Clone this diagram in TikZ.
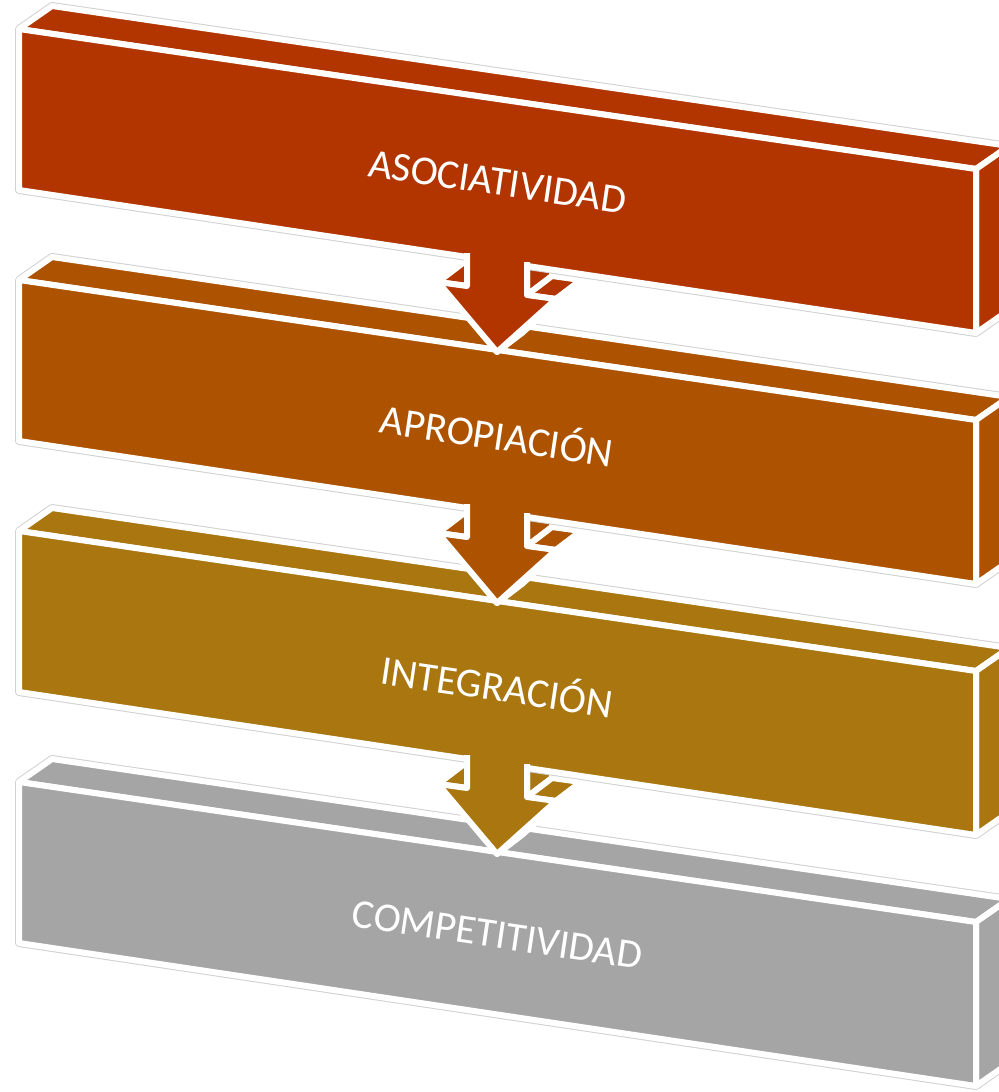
\documentclass[tikz,border=0pt]{standalone}
\usepackage{fontspec}
\setmainfont{Carlito}
\usepackage{xcolor}
\usepackage{tikz}
\usetikzlibrary{calc}
\definecolor{barA}{RGB}{178,53,0}
\definecolor{barB}{RGB}{173,83,0}
\definecolor{barC}{RGB}{169,118,15}
\definecolor{barD}{RGB}{165,165,165}

\begin{document}
\begin{tikzpicture}[x=0.5pt, y=-0.5pt, line join=round,
	face/.style={fill=#1, draw=white, line width=3pt},
	halo/.style={draw=black!18, line width=4pt},
	bartext/.style={text=white, font=\fontsize{20.5}{23}\selectfont, rotate=-8.4, inner sep=0pt}]
	\useasboundingbox (0,0) rectangle (999,1092);
	\foreach \i/\col/\txt/\name [evaluate=\i as \dy using 251*\i] in {3/barD/COMPETITIVIDAD/competitividad, 2/barC/INTEGRACIÓN/integracion, 1/barB/APROPIACIÓN/apropiacion, 0/barA/ASOCIATIVIDAD/asociatividad}
	{
		\begin{scope}[shift={(0,\dy)}]
			% sides of the arrow under this bar
			\ifnum\i<3
				\draw[face=\col] (438,282) -- (467,286) -- (492,267) -- (463,263) -- cycle;
				\draw[face=\col] (527,230) -- (527,295) -- (552,276) -- (552,230) -- cycle;
				\draw[face=\col] (527,295) -- (556,299) -- (581,280) -- (552,276) -- cycle;
				\draw[face=\col] (556,299) -- (497,352) -- (522,333) -- (581,280) -- cycle;
			\fi
			% bar
			\draw[halo] (19,29) -- (52,6) -- (1009,146) -- (1009,310) -- (976,333) -- (19,190) -- cycle;
			\draw[face=\col] (19,29) -- (52,6) -- (1009,146) -- (976,169) -- cycle;
			\draw[face=\col] (976,169) -- (1009,146) -- (1009,310) -- (976,333) -- cycle;
			\draw[face=\col] (19,29) -- (976,169) -- (976,333) -- (19,190) -- cycle;
			\node[bartext] (\name) at (497.5,182) {\txt};
			% front of the arrow
			\ifnum\i<3
				\fill[\col] (467,249) -- (467,286) -- (438,282) -- (497,352) -- (556,299) -- (527,295) -- (527,258) -- cycle;
				\draw[white, line width=3pt] (467,253) -- (467,286) -- (438,282) -- (497,352) -- (556,299) -- (527,295) -- (527,262);
			\fi
		\end{scope}
	}
\end{tikzpicture}
\end{document}
